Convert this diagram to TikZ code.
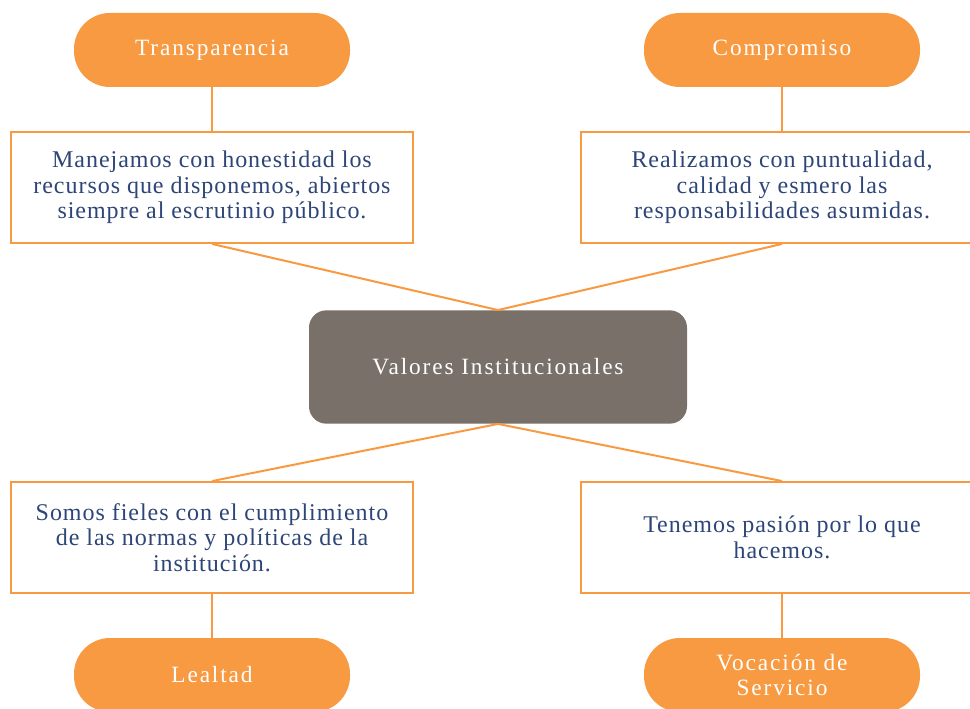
\documentclass[tikz,border=0pt]{standalone}
\usepackage{fontspec}
\setmainfont{Liberation Serif}
\newfontfamily\cajafont[LetterSpace=4]{Liberation Serif}
\newfontfamily\pillfont[LetterSpace=8]{Liberation Serif}
\usetikzlibrary{positioning}

\definecolor{naranja}{HTML}{F79A42}
\definecolor{gris}{HTML}{787069}
\definecolor{azul}{HTML}{2D4677}

\tikzset{
	pill/.style={rectangle, rounded corners=27pt, fill=naranja, inner sep=0pt,
		minimum width=207pt, minimum height=55.5pt, align=center,
		text=white, font=\pillfont\fontsize{17.5}{19}\selectfont},
	caja/.style={rectangle, draw=naranja, line width=1.5pt, fill=white, inner sep=0pt,
		minimum width=302pt, minimum height=83pt, align=center,
		text=azul, font=\cajafont\fontsize{18}{19.2}\selectfont},
	centro/.style={rectangle, rounded corners=13pt, fill=gris, inner sep=0pt,
		minimum width=283.5pt, minimum height=85pt,
		text=white, font=\pillfont\fontsize{17.5}{19}\selectfont},
	enlace/.style={draw=naranja, line width=1.5pt}
}

\begin{document}
\begin{tikzpicture}[x=0.75pt, y=-0.75pt, node distance=33pt]
	\clip (0,0) rectangle (970,709);
	\fill[white] (0,0) rectangle (970,709);

	\node[centro] 	(V) 	at (498,367) 			{Valores Institucionales};

	\node[pill] 	(T) 	at (212,50) 			{Transparencia};
	\node[caja] 	(TB) 	[below	=of T] 			{Manejamos con honestidad los\\recursos que disponemos, abiertos\\siempre al escrutinio público.};
	\node[pill] 	(C) 	at (782,50) 			{Compromiso};
	\node[caja] 	(CB) 	[below	=of C] 			{Realizamos con puntualidad,\\calidad y esmero las\\responsabilidades asumidas.};

	\node[pill] 	(L) 	at (212,675) 			{Lealtad};
	\node[caja] 	(LB) 	[above	=of L] 			{Somos fieles con el cumplimiento\\de las normas y políticas de la\\institución.};
	\node[pill] 	(S) 	at (782,675) 			{Vocación de\\Servicio};
	\node[caja] 	(SB) 	[above	=of S] 			{Tenemos pasión por lo que\\hacemos.};

	\path[enlace]
	(T) 	edge 	(TB)
	(C) 	edge 	(CB)
	(L) 	edge 	(LB)
	(S) 	edge 	(SB)
	(TB.south) 	edge 	(V.north)
	(CB.south) 	edge 	(V.north)
	(V.south) 	edge 	(LB.north)
		edge 	(SB.north)
	;
\end{tikzpicture}
\end{document}
